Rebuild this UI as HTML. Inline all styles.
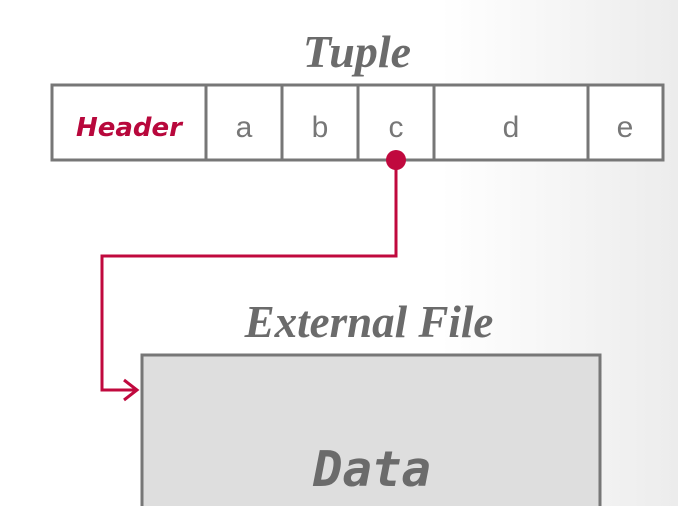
<!DOCTYPE html>
<html><head><style>
body{margin:0;width:678px;height:506px;overflow:hidden;background:linear-gradient(90deg,#fff 0%,#fff 65%,#ececec 100%);}
</style></head><body>
<svg width="678" height="506" xmlns="http://www.w3.org/2000/svg" style="position:absolute;left:0;top:0">
<text x="357" y="67" text-anchor="middle" font-family="Liberation Serif, serif" font-style="italic" font-weight="bold" font-size="46" fill="#6b6b6b">Tuple</text>
<rect x="52" y="85" width="611" height="75" fill="#fff" stroke="#777" stroke-width="3"/>
<g stroke="#777" stroke-width="3">
<line x1="206" y1="85" x2="206" y2="160"/><line x1="282" y1="85" x2="282" y2="160"/>
<line x1="358" y1="85" x2="358" y2="160"/><line x1="434" y1="85" x2="434" y2="160"/>
<line x1="588" y1="85" x2="588" y2="160"/></g>
<g font-family="Liberation Sans, sans-serif" font-size="30" fill="#777" text-anchor="middle">
<text x="129" y="136" font-style="italic" font-weight="bold" fill="#b8083c" font-family="DejaVu Sans, sans-serif" font-size="26">Header</text>
<text x="244" y="137">a</text><text x="320" y="137">b</text><text x="396" y="137">c</text>
<text x="511" y="137">d</text><text x="625" y="137">e</text></g>
<polyline points="396,160 396,256 102,256 102,390 136,390" fill="none" stroke="#c0093e" stroke-width="3"/>
<polyline points="124,380 137,390 124,400" fill="none" stroke="#c0093e" stroke-width="3"/>
<circle cx="396" cy="160" r="10" fill="#c0093e"/>
<text x="369" y="337" text-anchor="middle" font-family="Liberation Serif, serif" font-style="italic" font-weight="bold" font-size="45" fill="#6b6b6b">External File</text>
<rect x="142" y="355" width="458" height="160" fill="#dedede" stroke="#777" stroke-width="3"/>
<text x="372" y="486" text-anchor="middle" font-family="DejaVu Sans Mono, monospace" font-style="italic" font-weight="bold" font-size="49" fill="#6b6b6b">Data</text>
</svg>
</body></html>
